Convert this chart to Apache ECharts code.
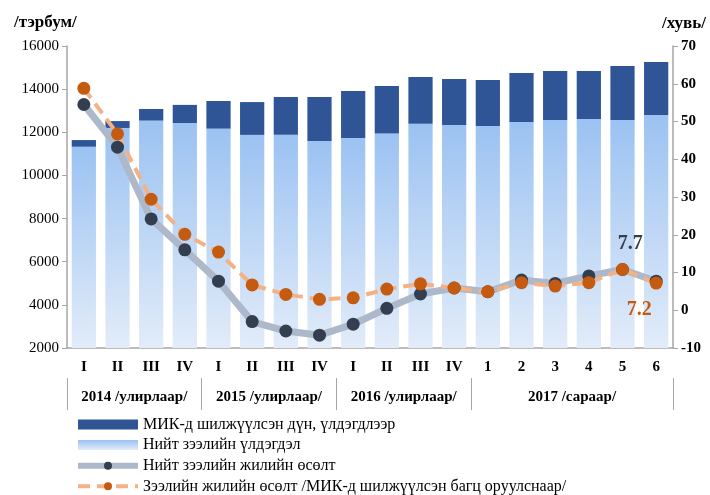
<!DOCTYPE html>
<html>
<head>
<meta charset="utf-8">
<script src="https://cdn.jsdelivr.net/npm/echarts@6/dist/echarts.min.js"></script>
<style>
  html, body { margin: 0; padding: 0; background: #fff; }
  #chart { width: 710px; height: 495px; }
</style>
</head>
<body>
<div id="chart"></div>
<script>
// ангилал
const categories = ['I', 'II', 'III', 'IV', 'I', 'II', 'III', 'IV', 'I', 'II', 'III', 'IV', '1', '2', '3', '4', '5', '6']
const groupLabels = ['2014 /улирлаар/', '2015 /улирлаар/', '2016 /улирлаар/', '2017 /сараар/']
const groupBounds = [0, 4, 8, 12, 18]
const groupCenters = [2, 6, 10, 15]

// тэрбум төгрөг
const totalLoans = [11330, 12200, 12540, 12430, 12170, 11880, 11880, 11600, 11740, 11940, 12400, 12340, 12290, 12480, 12570, 12620, 12570, 12800]
const mikLoans = [310, 320, 540, 840, 1280, 1520, 1760, 2040, 2170, 2210, 2160, 2130, 2130, 2270, 2270, 2220, 2500, 2460]

// хувь
const totalGrowth = [54.5, 43.2, 24.2, 16.0, 7.7, -3.0, -5.5, -6.6, -3.7, 0.5, 4.3, 5.9, 4.9, 8.0, 7.1, 9.1, 10.8, 7.7]
const adjGrowth = [58.8, 46.7, 29.4, 20.1, 15.4, 6.7, 4.2, 2.9, 3.3, 5.6, 7.0, 5.9, 4.9, 7.3, 6.4, 7.3, 10.8, 7.2]

const leftTicks = { min: 2000, max: 16000, interval: 2000 }
const rightTicks = { min: -10, max: 70, interval: 10 }

const font = 'Liberation Serif, Times New Roman, serif'
const axisGray = '#a6a6a6'

const chart = echarts.init(document.getElementById('chart'))

const lastLabel = (arr, label) => arr.map((v, i) => i === arr.length - 1 ? { value: v, label: label } : v)

const option = {
    animation: false,
    textStyle: { fontFamily: font },
    grid: { left: 67, right: 37, top: 46, bottom: 147 },
    legend: {
        orient: 'vertical',
        left: 75,
        top: 416,
        padding: 0,
        itemWidth: 60,
        itemHeight: 10,
        itemGap: 3.6,
        data: [
            { name: 'МИК-д шилжүүлсэн дүн, үлдэгдлээр', icon: 'rect' },
            { name: 'Нийт зээлийн үлдэгдэл', icon: 'rect' },
            { name: 'Нийт зээлийн жилийн өсөлт', lineStyle: { width: 6 } },
            { name: 'Зээлийн жилийн өсөлт /МИК-д шилжүүлсэн багц оруулснаар/', lineStyle: { width: 4 } }
        ],
        textStyle: { fontFamily: font, fontSize: 16, lineHeight: 17, color: '#000' }
    },
    xAxis: [
        {
            type: 'category',
            data: categories,
            axisLine: { onZero: false, lineStyle: { color: axisGray, width: 1.5 } },
            axisTick: { interval: 0, length: 30, lineStyle: { color: axisGray } },
            axisLabel: { interval: 0, margin: 12, fontFamily: font, fontSize: 15, fontWeight: 'bold', color: '#000' }
        },
        {
            type: 'value',
            position: 'bottom',
            offset: 30,
            min: 0,
            max: 18,
            splitLine: { show: false },
            axisLine: { show: false, onZero: false },
            axisTick: { show: true, length: 32, customValues: groupBounds, lineStyle: { color: axisGray } },
            axisLabel: {
                margin: 12,
                customValues: groupCenters,
                formatter: v => groupLabels[groupCenters.indexOf(v)] || '',
                fontFamily: font, fontSize: 15, fontWeight: 'bold', color: '#000'
            }
        }
    ],
    yAxis: [
        {
            type: 'value',
            min: leftTicks.min,
            max: leftTicks.max,
            interval: leftTicks.interval,
            name: '/тэрбум/',
            nameLocation: 'end',
            nameGap: 15,
            nameTextStyle: { fontFamily: font, fontSize: 17, fontWeight: 'bold', color: '#000', align: 'left', padding: [0, 0, 0, -53] },
            splitLine: { show: false },
            axisLine: { show: true, lineStyle: { color: axisGray, width: 1.5 } },
            axisTick: { show: true, length: 5, lineStyle: { color: axisGray } },
            axisLabel: { formatter: v => String(v), fontFamily: font, fontSize: 15, color: '#000', margin: 8 }
        },
        {
            type: 'value',
            min: rightTicks.min,
            max: rightTicks.max,
            interval: rightTicks.interval,
            name: '/хувь/',
            nameLocation: 'end',
            nameGap: 14,
            nameTextStyle: { fontFamily: font, fontSize: 17, fontWeight: 'bold', color: '#000', align: 'left', padding: [0, 0, 0, -11] },
            splitLine: { show: false },
            axisLine: { show: true, lineStyle: { color: axisGray, width: 1.5 } },
            axisTick: { show: true, length: 5, lineStyle: { color: axisGray } },
            axisLabel: { fontFamily: font, fontSize: 15, fontWeight: 'bold', color: '#000', margin: 8 }
        }
    ],
    series: [
        {
            name: 'Нийт зээлийн үлдэгдэл',
            type: 'bar',
            stack: 'loans',
            barWidth: '72%',
            data: totalLoans,
            itemStyle: {
                color: new echarts.graphic.LinearGradient(0, 0, 0, 1, [
                    { offset: 0, color: '#9bc2f2' },
                    { offset: 1, color: '#e2ecf9' }
                ])
            }
        },
        {
            name: 'МИК-д шилжүүлсэн дүн, үлдэгдлээр',
            type: 'bar',
            stack: 'loans',
            data: mikLoans,
            itemStyle: { color: '#2f5597' }
        },
        {
            name: 'Нийт зээлийн жилийн өсөлт',
            type: 'line',
            yAxisIndex: 1,
            data: lastLabel(totalGrowth, {
                show: true, position: 'top', offset: [-26, -16],
                fontFamily: font, fontSize: 20, fontWeight: 'bold', color: '#333f50'
            }),
            symbol: 'circle',
            symbolSize: 13,
            lineStyle: { color: '#adb9ca', width: 7 },
            itemStyle: { color: '#333f50' }
        },
        {
            name: 'Зээлийн жилийн өсөлт /МИК-д шилжүүлсэн багц оруулснаар/',
            type: 'line',
            yAxisIndex: 1,
            data: lastLabel(adjGrowth, {
                show: true, position: 'bottom', offset: [-17, 5],
                fontFamily: font, fontSize: 20, fontWeight: 'bold', color: '#c55a11'
            }),
            symbol: 'circle',
            symbolSize: 13,
            lineStyle: { color: '#f4b183', width: 4, type: [12, 7] },
            itemStyle: { color: '#c55a11' }
        }
    ]
}

chart.setOption(option)
</script>
</body>
</html>
